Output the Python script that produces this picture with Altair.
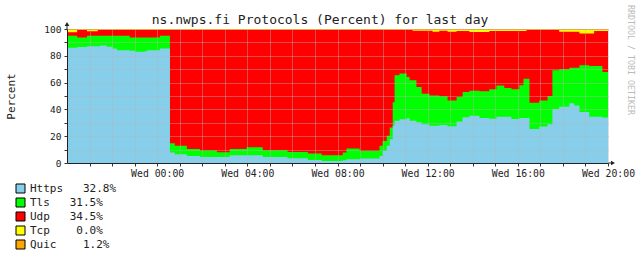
import altair as alt
import pandas as pd

# ---- data (minutes after Tue 20:00, cumulative levels in %) ----
minutes = [0, 27, 53, 82, 88, 106, 122, 133, 167, 181, 207, 213, 247, 274, 287, 319, 354, 399,
           433, 478, 521, 587, 641, 678, 734, 744, 779, 832, 840, 851, 859, 867, 872, 885, 904,
           912, 920, 930, 944, 965, 973, 991, 1013, 1037, 1053, 1071, 1098, 1124, 1143, 1164,
           1183, 1204, 1215, 1223, 1231, 1257, 1279, 1292, 1310, 1337, 1350, 1364, 1390, 1403,
           1425, 1440]
https_top = [86.0, 86.6, 87.2, 87.2, 87.7, 86.8, 85.4, 84.2, 83.7, 83.0, 83.4, 84.2, 85.5, 7.8,
             6.5, 5.3, 4.5, 4.5, 5.8, 5.8, 4.5, 3.5, 2.3, 1.5, 2.0, 2.8, 3.3, 5.3, 9.0, 12.8, 17.8,
             27.9, 31.6, 32.6, 33.4, 31.6, 31.6, 30.4, 29.0, 27.8, 27.8, 28.4, 27.4, 31.0, 34.2,
             35.3, 33.5, 33.0, 34.5, 34.5, 32.8, 33.5, 33.5, 33.5, 25.3, 27.3, 29.0, 40.3, 42.0,
             44.5, 43.0, 38.0, 34.5, 34.5, 34.0, 34.0]
tls_top = [95.0, 93.7, 95.0, 95.0, 95.0, 95.0, 95.0, 95.0, 93.7, 93.7, 93.7, 93.7, 95.0, 14.8,
           12.9, 10.5, 9.3, 8.1, 10.5, 11.7, 9.5, 8.3, 7.0, 5.8, 7.8, 10.8, 9.0, 12.8, 16.5, 20.3,
           26.5, 45.4, 65.4, 66.7, 64.2, 61.7, 61.7, 56.7, 51.7, 50.4, 50.4, 49.9, 46.6, 49.2,
           52.9, 54.0, 53.5, 55.0, 57.9, 56.0, 55.0, 58.0, 62.9, 62.9, 44.9, 46.6, 50.0, 69.2,
           70.0, 71.0, 71.0, 72.9, 72.4, 72.4, 67.9, 67.9]
udp_top = [97.5, 99.2, 98.3, 99.2, 99.2, 99.2, 99.2, 99.2, 99.2, 99.2, 99.2, 99.2, 99.2, 99.2,
           99.2, 99.2, 99.2, 99.2, 99.2, 99.2, 99.2, 99.2, 99.2, 99.2, 99.2, 99.2, 99.2, 99.2,
           99.2, 99.2, 99.2, 99.2, 99.2, 99.2, 99.2, 99.2, 98.7, 98.7, 98.7, 98.7, 98.0, 98.7,
           98.0, 98.5, 98.5, 97.7, 97.7, 98.5, 98.5, 98.5, 98.5, 98.5, 98.5, 99.2, 99.2, 99.2,
           99.2, 99.2, 98.0, 98.0, 98.0, 96.7, 96.7, 98.5, 98.5, 98.5]
tcp_top = [99.2] * len(minutes)     # yellow band always ends here
quic_top = [100.0] * len(minutes)   # thin orange band at the top

names = ["Https", "Tls", "Udp", "Tcp", "Quic"]
colors = ["#87CEEB", "#00FF00", "#FF0000", "#FFFF00", "#FFA500"]
pct = ["32.8%", "31.5%", "34.5%", "0.0%", "1.2%"]
gaps = [3, 3, 3, 4, 4]

base_t = pd.Timestamp("2024-01-02T20:00:00")
tops = {"Https": https_top, "Tls": tls_top, "Udp": udp_top, "Tcp": tcp_top, "Quic": quic_top}
rows = []
for n in names:
    for m, v in zip(minutes, tops[n]):
        rows.append({"time": (base_t + pd.Timedelta(minutes=m)).strftime("%Y-%m-%dT%H:%M:%S"),
                     "s": n, "top": v})
df = pd.DataFrame(rows)

NB = "\u00a0"
label_map = ", ".join(f"'{n}': '{n}{NB * g}{p}'" for n, g, p in zip(names, gaps, pct))
label_expr = "{" + label_map + "}[datum.label]"

W, H = 541, 134
MONO = "DejaVu Sans Mono"

hour_vals = [alt.DateTime(year=2024, month=1, date=2 + (h // 24), hours=h % 24)
             for h in range(21, 45)]

x_enc = alt.X("time:T",
              scale=alt.Scale(domain=[alt.DateTime(year=2024, month=1, date=2, hours=20),
                                      alt.DateTime(year=2024, month=1, date=3, hours=20)]),
              axis=alt.Axis(title=None, values=hour_vals,
                            labelExpr="hours(datum.value) % 4 == 0 ? timeFormat(datum.value, '%a %H:%M') : ''",
                            labelOverlap=False, labelFlush=False, labelBound=False,
                            grid=True, gridDash=[1, 1], gridColor="#b4b4b4", gridOpacity=0.85,
                            tickSize=3, tickColor="#333", domainColor="#222",
                            labelFont=MONO, labelFontSize=9.8, labelColor="#222",
                            labelPadding=2, zindex=1))
y_enc = alt.Y("top:Q", stack=None,
              scale=alt.Scale(domain=[0, 100], nice=False),
              axis=alt.Axis(title="Percent", values=list(range(0, 101, 10)),
                            labelExpr="datum.value % 20 == 0 ? datum.label : ''",
                            grid=True, gridDash=[1, 1], gridColor="#b4b4b4", gridOpacity=0.85,
                            tickSize=3, tickColor="#333", domainColor="#222",
                            labelFont=MONO, labelFontSize=9.5, labelColor="#222",
                            labelPadding=3,
                            titleFont=MONO, titleFontSize=11, titleFontWeight="normal",
                            titleColor="#222", titleX=-56, titleY=H / 2,
                            titleAlign="center", titleBaseline="middle", titleAngle=-90,
                            zindex=1))
color_enc = alt.Color("s:N", scale=alt.Scale(domain=names, range=colors),
                      legend=alt.Legend(title=None, orient="none", legendX=-52, legendY=154,
                                        direction="vertical", symbolType="square",
                                        symbolSize=81, symbolStrokeColor="black",
                                        symbolStrokeWidth=1, symbolOpacity=1,
                                        labelFont=MONO, labelFontSize=11, labelColor="#222",
                                        labelOffset=4, rowPadding=1, labelLimit=400,
                                        labelExpr=label_expr, padding=0))

base = alt.Chart(df).mark_area(interpolate="step-after", opacity=1).encode(
    x=x_enc, y=y_enc, y2=alt.datum(0), color=color_enc)

layers = [base.transform_filter(alt.datum.s == n) for n in reversed(names)]

deco = pd.DataFrame({"k": [0]})
title = alt.Chart(deco).mark_text(font=MONO, fontSize=13, color="#222", align="center",
                                  baseline="alphabetic").encode(
    x=alt.value(253), y=alt.value(-5), text=alt.value("ns.nwps.fi Protocols (Percent) for last day"))
credit = alt.Chart(deco).mark_text(font=MONO, fontSize=8.3, color="#bbbbbb", align="center",
                                   baseline="middle", angle=90).encode(
    x=alt.value(563), y=alt.value(31), text=alt.value("RRDTOOL / TOBI OETIKER"))
y_ext = alt.Chart(deco).mark_rule(color="#222").encode(
    x=alt.value(0), y=alt.value(-4), y2=alt.value(0))
x_ext = alt.Chart(deco).mark_rule(color="#222").encode(
    x=alt.value(W), x2=alt.value(W + 5), y=alt.value(H))
y_arrow = alt.Chart(deco).mark_point(shape="triangle-up", filled=True, color="#222",
                                     size=22, opacity=1).encode(
    x=alt.value(0), y=alt.value(-5))
x_arrow = alt.Chart(deco).mark_point(shape="triangle-right", filled=True, color="#222",
                                     size=22, opacity=1).encode(
    x=alt.value(W + 5), y=alt.value(H))

chart = alt.layer(*layers, y_ext, x_ext, y_arrow, x_arrow, title, credit).properties(
    width=W, height=H,
    autosize=alt.AutoSizeParams(type="none"),
    padding={"left": 67, "top": 29, "right": 640 - 67 - W, "bottom": 258 - 29 - H},
    background="white",
).configure_view(stroke=None)

chart.save("out.html", embed_options={"renderer": "svg", "actions": False})
